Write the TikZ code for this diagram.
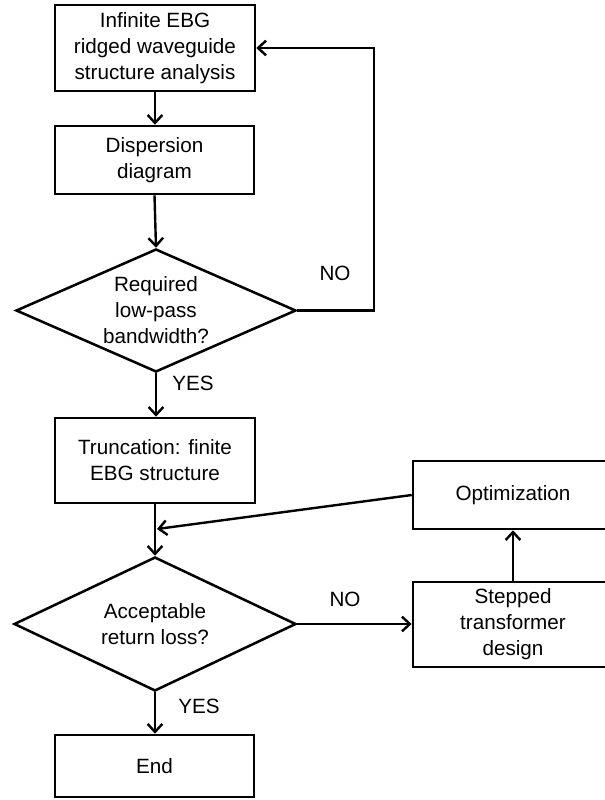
\documentclass[tikz,border=0pt]{standalone}
\usepackage{fontspec}
\setmainfont{Liberation Sans}
\usetikzlibrary{shapes.geometric,arrows.meta}
\tikzset{
  box/.style={draw, line width=1.9pt, rectangle, align=center, inner sep=2pt, font=\fontsize{15.5}{19.5}\selectfont},
  dia/.style={draw, line width=1.9pt, diamond, inner sep=0pt},
  txt/.style={align=center, inner sep=0pt, font=\fontsize{15.5}{19.5}\selectfont},
  lbl/.style={inner sep=0pt, font=\fontsize{15.5}{19.5}\selectfont},
  arr/.style={line width=1.8pt, -{Straight Barb[length=6pt,width=11pt,line width=1.8pt]}}
}
\begin{document}
\begin{tikzpicture}[x=0.75pt,y=-0.75pt]
\useasboundingbox (0,0) rectangle (604,800);
\node[box, minimum width=150pt, minimum height=64.5pt] (b1) at (155,48) {Infinite EBG\\ridged waveguide\\structure analysis};
\node[box, minimum width=149.25pt, minimum height=51pt] (b2) at (154.5,160) {Dispersion\\diagram};
\node[dia, minimum width=210pt, minimum height=92.25pt] (d1) at (156,310.5) {};
\node[txt] (t1) at (d1.center) {Required\\low-pass\\bandwidth?};
\node[box, minimum width=150pt, minimum height=63.75pt] (b3) at (155,460.5) {Truncation: finite\\EBG structure};
\node[dia, minimum width=211.5pt, minimum height=100.5pt] (d2) at (155,624) {};
\node[txt] (t2) at (d2.center) {Acceptable\\return loss?};
\node[box, minimum width=149.25pt, minimum height=46.5pt] (end) at (154.5,766) {End};
\node[box, minimum width=150pt, minimum height=51pt] (opt) at (513,495) {Optimization};
\node[box, minimum width=150pt, minimum height=63.75pt] (st) at (513,624.5) {Stepped\\transformer\\design};

\node[lbl] (no1) at (335,273) {NO};
\node[lbl] (yes1) at (193,383) {YES};
\node[lbl] (no2) at (345,599) {NO};
\node[lbl] (yes2) at (199,706) {YES};

\coordinate (fb) at (374,48);
\coordinate (m) at (157,529);

\draw[arr] (b1.south) -- (b1.south |- b2.north);
\draw[arr] (b2.south) -- (d1.north);
\draw[arr] (d1.east) -| (fb) -- (b1.east);
\draw[arr] (d1.south) -- (d1.south |- b3.north);
\draw[arr] (b3.south) -- (d2.north);
\draw[arr] (opt.west) -- (m);
\draw[arr] (d2.east) -- (d2.east -| st.west);
\draw[arr] (st.north) -- (opt.south);
\draw[arr] (d2.south) -- (d2.south |- end.north);
\end{tikzpicture}
\end{document}
